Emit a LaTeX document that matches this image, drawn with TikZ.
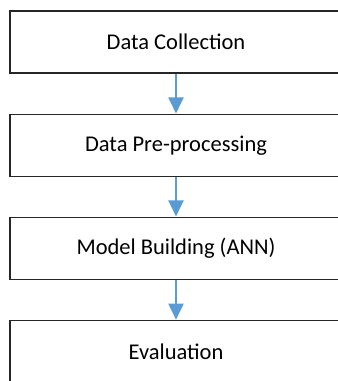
\documentclass[tikz,border=0pt]{standalone}
\usepackage{fontspec}
\setmainfont{Carlito}
\usetikzlibrary{arrows.meta}
\begin{document}
\begin{tikzpicture}[x=1pt,y=-1pt,
  stage/.style={draw=black!85, line width=1.1pt, fill=white, minimum width=332pt, minimum height=62pt, inner sep=0pt,
    font=\fontsize{22.5}{27}\selectfont},
  flow/.style={draw={rgb,255:red,91;green,155;blue,213}, line width=2pt,
    -{Triangle[length=16pt,width=15pt]}, shorten >=0.5pt}]
\clip (0,0) rectangle (338,381);
\fill[white] (0,0) rectangle (338,381);
\node[stage] (a) at (176,42) {Data Collection};
\node[stage] (b) at (176,145.5) {Data Pre-processing};
\node[stage] (c) at (176,248.5) {Model Building (ANN)};
\node[stage] (d) at (176,351.7) {Evaluation};
\draw[flow] (a) -- (b);
\draw[flow] (b) -- (c);
\draw[flow] (c) -- (d);
\end{tikzpicture}
\end{document}
